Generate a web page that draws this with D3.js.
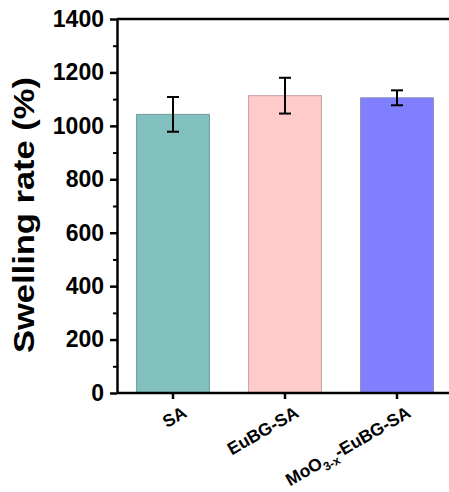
<!DOCTYPE html>
<html>
<head>
<meta charset="utf-8">
<script src="https://cdn.jsdelivr.net/npm/d3@7"></script>
<style>
  body { margin: 0; background: #fff; }
  text { font-family: Arial, "Liberation Sans", sans-serif; font-weight: bold; }
</style>
</head>
<body>
<div id="chart"></div>
<script>
// data
let categories = ['SA', 'EuBG-SA', 'MoO3-x-EuBG-SA'];
let values = [1043, 1113, 1105];
let errors = [65, 67, 28];
let fills = ['#82c0c0', '#ffcaca', '#8080ff'];
let strokes = ['#6f9c9c', '#c8a0a0', '#8a8ac0'];
let yTicks = [0, 200, 400, 600, 800, 1000, 1200, 1400];

let cfg = {
  width: 449,
  height: 492,
  left: 117,
  top: 19,
  bottom: 393
};

let svg = d3.select('#chart')
  .append('svg')
  .attr('width', cfg.width)
  .attr('height', cfg.height);

let yscale = d3.scaleLinear()
  .domain([0, 1400])
  .range([cfg.bottom, cfg.top]);

let xscale = d3.scaleBand()
  .domain(categories)
  .range([cfg.left, cfg.left + 336])
  .paddingInner(0.35)
  .paddingOuter(0.175);

// bars
svg.selectAll('.bar')
  .data(categories)
  .enter()
  .append('rect')
  .attr('class', 'bar')
  .attr('x', d => xscale(d))
  .attr('width', xscale.bandwidth())
  .attr('y', (d, i) => yscale(values[i]))
  .attr('height', (d, i) => yscale(0) - yscale(values[i]))
  .style('fill', (d, i) => fills[i])
  .style('stroke', (d, i) => strokes[i])
  .style('stroke-width', 1);

// error bars
let errG = svg.selectAll('.err')
  .data(categories)
  .enter()
  .append('g')
  .attr('class', 'err')
  .attr('transform', d => `translate(${xscale(d) + xscale.bandwidth() / 2},0)`);

errG.append('line')
  .attr('y1', (d, i) => yscale(values[i] + errors[i]))
  .attr('y2', (d, i) => yscale(values[i] - errors[i]))
  .style('stroke', '#000').style('stroke-width', 2);
errG.append('line')
  .attr('x1', -6).attr('x2', 6)
  .attr('y1', (d, i) => yscale(values[i] + errors[i]))
  .attr('y2', (d, i) => yscale(values[i] + errors[i]))
  .style('stroke', '#000').style('stroke-width', 2);
errG.append('line')
  .attr('x1', -6).attr('x2', 6)
  .attr('y1', (d, i) => yscale(values[i] - errors[i]))
  .attr('y2', (d, i) => yscale(values[i] - errors[i]))
  .style('stroke', '#000').style('stroke-width', 2);

// minor ticks on y
let minor = svg.append('g')
  .attr('transform', `translate(${cfg.left},0)`)
  .call(d3.axisLeft(yscale).tickValues(d3.range(100, 1400, 200)).tickSize(4).tickFormat(''));
minor.select('.domain').remove();
minor.selectAll('line').style('stroke', '#000').style('stroke-width', 2);

// y axis
let yaxis = svg.append('g')
  .attr('transform', `translate(${cfg.left},0)`)
  .call(d3.axisLeft(yscale).tickValues(yTicks).tickSize(7).tickSizeOuter(0)
    .tickPadding(6).tickFormat(d3.format('d')));
yaxis.select('.domain').style('stroke', '#000').style('stroke-width', 2.5);
yaxis.selectAll('line').style('stroke', '#000').style('stroke-width', 2.5);
yaxis.selectAll('text').style('font-size', '23px').style('fill', '#000');

// x axis
let xaxis = svg.append('g')
  .attr('transform', `translate(0,${cfg.bottom})`)
  .call(d3.axisBottom(xscale).tickSize(6).tickSizeOuter(0).tickFormat(''));
xaxis.select('.domain')
  .attr('d', `M${cfg.left},0H${cfg.width}`)
  .style('stroke', '#000').style('stroke-width', 2.5);
xaxis.selectAll('line').style('stroke', '#000').style('stroke-width', 2.5);

// rotated category labels
let labels = xaxis.selectAll('.lab')
  .data(categories)
  .enter()
  .append('text')
  .attr('class', 'lab')
  .attr('text-anchor', 'end')
  .attr('transform', d => `translate(${xscale(d) + xscale.bandwidth() / 2 + 15},23) rotate(-30)`)
  .style('font-size', '17.5px')
  .style('fill', '#000');

labels.each(function (d) {
  let t = d3.select(this);
  if (d.startsWith('MoO3-x')) {
    t.append('tspan').text('MoO');
    t.append('tspan').text('3-x').attr('dy', 5).style('font-size', '12px');
    t.append('tspan').text('-EuBG-SA').attr('dy', -5);
  } else {
    t.text(d);
  }
});

// top frame line
svg.append('line')
  .attr('x1', cfg.left).attr('x2', cfg.width)
  .attr('y1', cfg.top).attr('y2', cfg.top)
  .style('stroke', '#000').style('stroke-width', 2.5);

// y title
svg.append('text')
  .attr('transform', `translate(34,215) rotate(-90)`)
  .attr('text-anchor', 'middle')
  .attr('textLength', 276)
  .attr('lengthAdjust', 'spacingAndGlyphs')
  .style('font-size', '29px')
  .style('fill', '#000')
  .text('Swelling rate (%)');
</script>
</body>
</html>
